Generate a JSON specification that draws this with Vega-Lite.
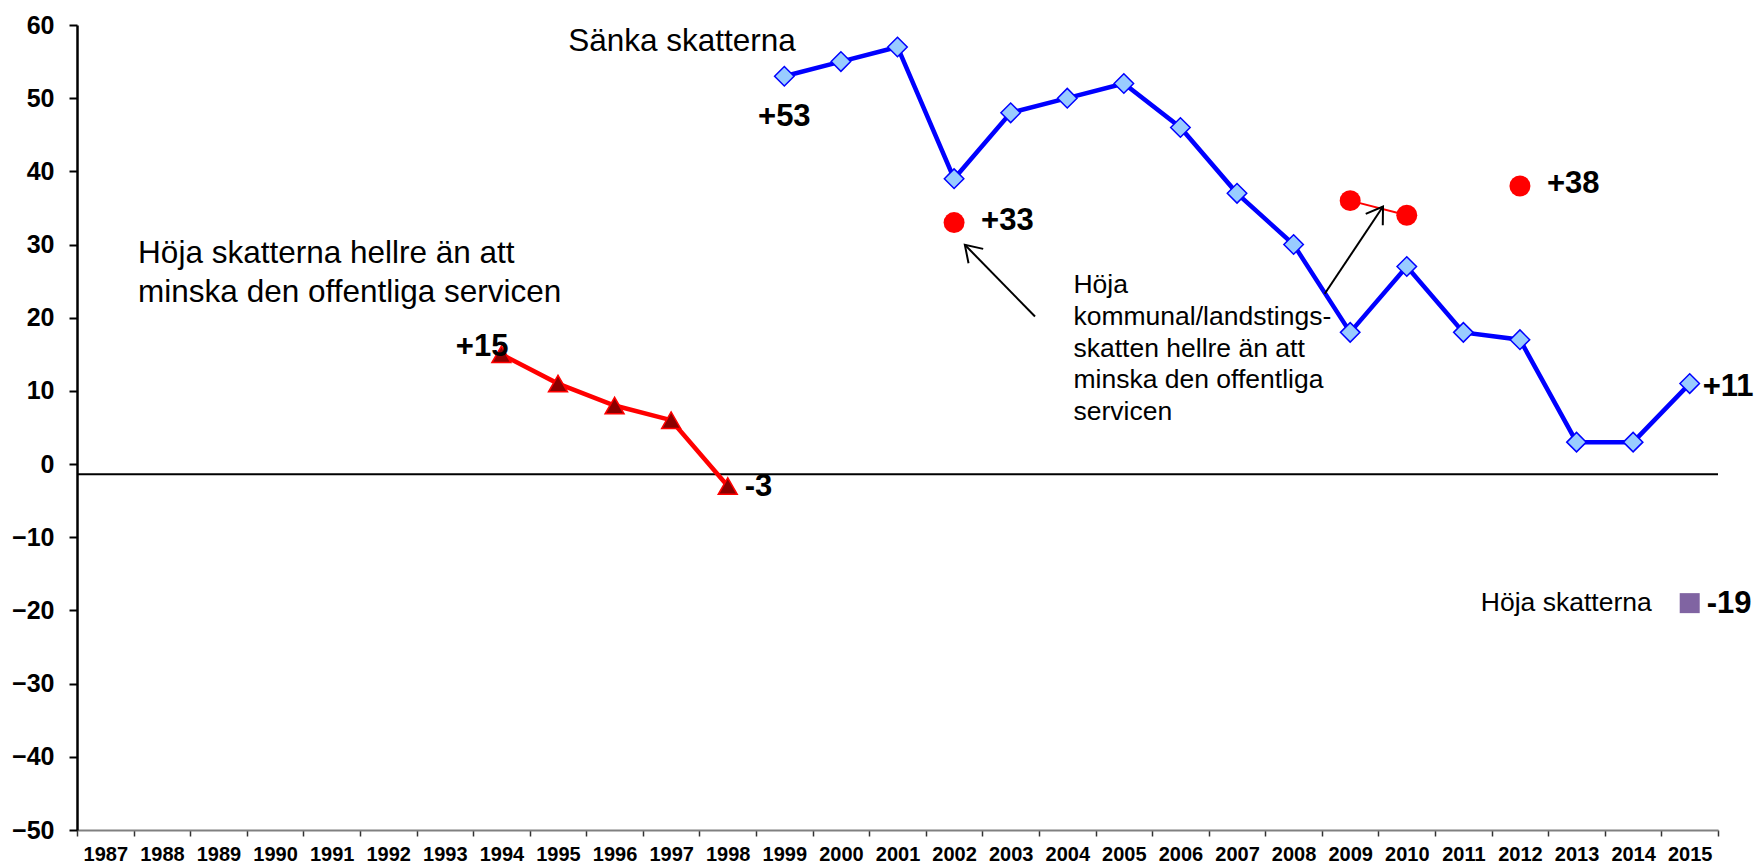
{
  "$schema": "https://vega.github.io/schema/vega-lite/v6.json",
  "width": 1641,
  "height": 805,
  "autosize": {"type": "none"},
  "padding": {"left": 77, "top": 25, "right": 40, "bottom": 35},
  "background": "white",
  "config": {"view": {"stroke": null}, "font": "Liberation Sans"},
  "datasets": {
    "sanka": [
      {"year": 1999, "value": 53}, {"year": 2000, "value": 55}, {"year": 2001, "value": 57},
      {"year": 2002, "value": 39}, {"year": 2003, "value": 48}, {"year": 2004, "value": 50},
      {"year": 2005, "value": 52}, {"year": 2006, "value": 46}, {"year": 2007, "value": 37},
      {"year": 2008, "value": 30}, {"year": 2009, "value": 18}, {"year": 2010, "value": 27},
      {"year": 2011, "value": 18}, {"year": 2012, "value": 17}, {"year": 2013, "value": 3},
      {"year": 2014, "value": 3}, {"year": 2015, "value": 11}
    ],
    "hoja": [
      {"year": 1994, "value": 15}, {"year": 1995, "value": 11}, {"year": 1996, "value": 8},
      {"year": 1997, "value": 6}, {"year": 1998, "value": -3}
    ],
    "kommunal": [
      {"year": 2002, "value": 33, "group": "a"},
      {"year": 2009, "value": 36, "group": "b"},
      {"year": 2010, "value": 34, "group": "b"},
      {"year": 2012, "value": 38, "group": "c"}
    ],
    "hojaSkatt": [{"year": 2015, "value": -19}]
  },
  "layer": [
    {
      "data": {"values": [{"value": -1.4}]},
      "mark": {"type": "rule", "color": "black", "strokeWidth": 2},
      "encoding": {
        "y": {"field": "value", "type": "quantitative", "title": null,
          "scale": {"domain": [-50, 60], "nice": false, "zero": false},
          "axis": {
            "values": [-50, -40, -30, -20, -10, 0, 10, 20, 30, 40, 50, 60],
            "title": null, "grid": false,
            "labelFontSize": 25, "labelFontWeight": "bold", "labelColor": "black", "labelFont": "Liberation Sans",
            "tickSize": 8, "tickWidth": 2, "tickColor": "black",
            "domainColor": "black", "domainWidth": 2.5, "labelPadding": 15
          }
        }
      }
    },
    {
      "data": {"name": "sanka"},
      "mark": {"type": "line", "color": "#0000FF", "strokeWidth": 4.5},
      "encoding": {
        "x": {"field": "year", "type": "quantitative", "title": null,
          "scale": {"domain": [1986.5, 2015.5], "nice": false, "zero": false},
          "axis": {
            "values": [1986.5, 1987.5, 1988.5, 1989.5, 1990.5, 1991.5, 1992.5, 1993.5, 1994.5, 1995.5, 1996.5, 1997.5, 1998.5, 1999.5, 2000.5, 2001.5, 2002.5, 2003.5, 2004.5, 2005.5, 2006.5, 2007.5, 2008.5, 2009.5, 2010.5, 2011.5, 2012.5, 2013.5, 2014.5, 2015.5],
            "labelExpr": "datum.value > 2015 ? '' : format(datum.value + 0.5, 'd')",
            "labelOffset": 28.3, "labelFlush": false, "labelOverlap": false, "labelBound": false,
            "title": null, "grid": false,
            "labelFontSize": 20, "labelFontWeight": "bold", "labelColor": "black", "labelFont": "Liberation Sans",
            "tickSize": 6, "tickWidth": 1.5, "tickColor": "#333333",
            "domainColor": "#808080", "domainWidth": 2, "labelPadding": 8
          }
        },
        "y": {"field": "value", "type": "quantitative", "title": null}
      }
    },
    {
      "data": {"name": "sanka"},
      "mark": {"type": "point", "shape": "diamond", "filled": true, "fill": "#99CCFF", "stroke": "#0000FF", "strokeWidth": 1.5, "size": 380, "opacity": 1},
      "encoding": {
        "x": {"field": "year", "type": "quantitative", "title": null},
        "y": {"field": "value", "type": "quantitative", "title": null}
      }
    },
    {
      "data": {"name": "hoja"},
      "mark": {"type": "line", "color": "#FF0000", "strokeWidth": 4.5},
      "encoding": {
        "x": {"field": "year", "type": "quantitative", "title": null},
        "y": {"field": "value", "type": "quantitative", "title": null}
      }
    },
    {
      "data": {"name": "hoja"},
      "mark": {"type": "point", "shape": "triangle-up", "filled": true, "fill": "#8B0000", "stroke": "#FF0000", "strokeWidth": 1.5, "size": 360, "opacity": 1},
      "encoding": {
        "x": {"field": "year", "type": "quantitative", "title": null},
        "y": {"field": "value", "type": "quantitative", "title": null}
      }
    },
    {
      "data": {"name": "kommunal"},
      "mark": {"type": "line", "color": "#FF0000", "strokeWidth": 2},
      "encoding": {
        "x": {"field": "year", "type": "quantitative", "title": null},
        "y": {"field": "value", "type": "quantitative", "title": null},
        "detail": {"field": "group", "type": "nominal"}
      }
    },
    {
      "data": {"name": "kommunal"},
      "mark": {"type": "circle", "color": "#FF0000", "size": 440, "opacity": 1},
      "encoding": {
        "x": {"field": "year", "type": "quantitative", "title": null},
        "y": {"field": "value", "type": "quantitative", "title": null}
      }
    },
    {
      "data": {"name": "hojaSkatt"},
      "mark": {"type": "square", "color": "#8064A2", "size": 400, "opacity": 1},
      "encoding": {
        "x": {"field": "year", "type": "quantitative", "title": null},
        "y": {"field": "value", "type": "quantitative", "title": null}
      }
    },
    {
      "data": {"values": [
        {"year": 2003.43, "value": 20.16, "year2": 2002.19, "value2": 29.97},
        {"year": 2008.55, "value": 23.27, "year2": 2009.58, "value2": 35.2}
      ]},
      "mark": {"type": "rule", "color": "black", "strokeWidth": 2},
      "encoding": {
        "x": {"field": "year", "type": "quantitative", "title": null},
        "y": {"field": "value", "type": "quantitative", "title": null},
        "x2": {"field": "year2"},
        "y2": {"field": "value2"}
      }
    },
    {
      "data": {"values": [{"year": 2002.19, "value": 29.97}]},
      "mark": {"type": "point", "shape": "M-0.545,0.839L0,0L0.545,0.839", "filled": false, "color": "black", "strokeWidth": 2, "size": 1414, "angle": 315.7, "opacity": 1},
      "encoding": {
        "x": {"field": "year", "type": "quantitative", "title": null},
        "y": {"field": "value", "type": "quantitative", "title": null}
      }
    },
    {
      "data": {"values": [{"year": 2009.58, "value": 35.2}]},
      "mark": {"type": "point", "shape": "M-0.545,0.839L0,0L0.545,0.839", "filled": false, "color": "black", "strokeWidth": 2, "size": 1414, "angle": 33.7, "opacity": 1},
      "encoding": {
        "x": {"field": "year", "type": "quantitative", "title": null},
        "y": {"field": "value", "type": "quantitative", "title": null}
      }
    },
    {
      "data": {"values": [{"year": 1999, "value": 53, "label": "+53"}]},
      "mark": {"type": "text", "font": "Liberation Sans", "fontSize": 31, "fontWeight": "bold", "align": "center", "baseline": "middle", "dy": 41, "color": "black"},
      "encoding": {
        "x": {"field": "year", "type": "quantitative", "title": null},
        "y": {"field": "value", "type": "quantitative", "title": null},
        "text": {"field": "label", "type": "nominal"}
      }
    },
    {
      "data": {"values": [{"year": 2002, "value": 33, "label": "+33"}, {"year": 2012, "value": 38, "label": "+38"}]},
      "mark": {"type": "text", "font": "Liberation Sans", "fontSize": 31, "fontWeight": "bold", "align": "left", "baseline": "middle", "dx": 27, "dy": -2, "color": "black"},
      "encoding": {
        "x": {"field": "year", "type": "quantitative", "title": null},
        "y": {"field": "value", "type": "quantitative", "title": null},
        "text": {"field": "label", "type": "nominal"}
      }
    },
    {
      "data": {"values": [{"year": 2015, "value": 11, "label": "+11"}]},
      "mark": {"type": "text", "font": "Liberation Sans", "fontSize": 31, "fontWeight": "bold", "align": "left", "baseline": "middle", "dx": 13, "dy": 3, "color": "black"},
      "encoding": {
        "x": {"field": "year", "type": "quantitative", "title": null},
        "y": {"field": "value", "type": "quantitative", "title": null},
        "text": {"field": "label", "type": "nominal"}
      }
    },
    {
      "data": {"values": [{"year": 1994, "value": 15, "label": "+15"}]},
      "mark": {"type": "text", "font": "Liberation Sans", "fontSize": 31, "fontWeight": "bold", "align": "right", "baseline": "middle", "dx": 7, "dy": -7, "color": "black"},
      "encoding": {
        "x": {"field": "year", "type": "quantitative", "title": null},
        "y": {"field": "value", "type": "quantitative", "title": null},
        "text": {"field": "label", "type": "nominal"}
      }
    },
    {
      "data": {"values": [{"year": 1998, "value": -3, "label": "-3"}, {"year": 2015, "value": -19, "label": "-19"}]},
      "mark": {"type": "text", "font": "Liberation Sans", "fontSize": 31, "fontWeight": "bold", "align": "left", "baseline": "middle", "dx": 17, "dy": 1, "color": "black"},
      "encoding": {
        "x": {"field": "year", "type": "quantitative", "title": null},
        "y": {"field": "value", "type": "quantitative", "title": null},
        "text": {"field": "label", "type": "nominal"}
      }
    },
    {
      "data": {"values": [{"year": 2015, "value": -19, "label": "Höja skatterna"}]},
      "mark": {"type": "text", "font": "Liberation Sans", "fontSize": 26.5, "align": "right", "baseline": "middle", "dx": -38, "color": "black"},
      "encoding": {
        "x": {"field": "year", "type": "quantitative", "title": null},
        "y": {"field": "value", "type": "quantitative", "title": null},
        "text": {"field": "label", "type": "nominal"}
      }
    },
    {
      "data": {"values": [{"year": 1995.18, "value": 56.39, "label": "Sänka skatterna"}]},
      "mark": {"type": "text", "font": "Liberation Sans", "fontSize": 31.5, "align": "left", "baseline": "alphabetic", "color": "black"},
      "encoding": {
        "x": {"field": "year", "type": "quantitative", "title": null},
        "y": {"field": "value", "type": "quantitative", "title": null},
        "text": {"field": "label", "type": "nominal"}
      }
    },
    {
      "data": {"values": [{"year": 1987.58, "value": 27.46, "label": "Höja skatterna hellre än att\nminska den offentliga servicen"}]},
      "mark": {"type": "text", "font": "Liberation Sans", "fontSize": 31.5, "align": "left", "baseline": "alphabetic", "lineBreak": "\n", "lineHeight": 38.5, "color": "black"},
      "encoding": {
        "x": {"field": "year", "type": "quantitative", "title": null},
        "y": {"field": "value", "type": "quantitative", "title": null},
        "text": {"field": "label", "type": "nominal"}
      }
    },
    {
      "data": {"values": [{"year": 2004.11, "value": 23.36, "label": "Höja\nkommunal/landstings-\nskatten hellre än att\nminska den offentliga\nservicen"}]},
      "mark": {"type": "text", "font": "Liberation Sans", "fontSize": 26.5, "align": "left", "baseline": "alphabetic", "lineBreak": "\n", "lineHeight": 31.7, "color": "black"},
      "encoding": {
        "x": {"field": "year", "type": "quantitative", "title": null},
        "y": {"field": "value", "type": "quantitative", "title": null},
        "text": {"field": "label", "type": "nominal"}
      }
    }
  ]
}
